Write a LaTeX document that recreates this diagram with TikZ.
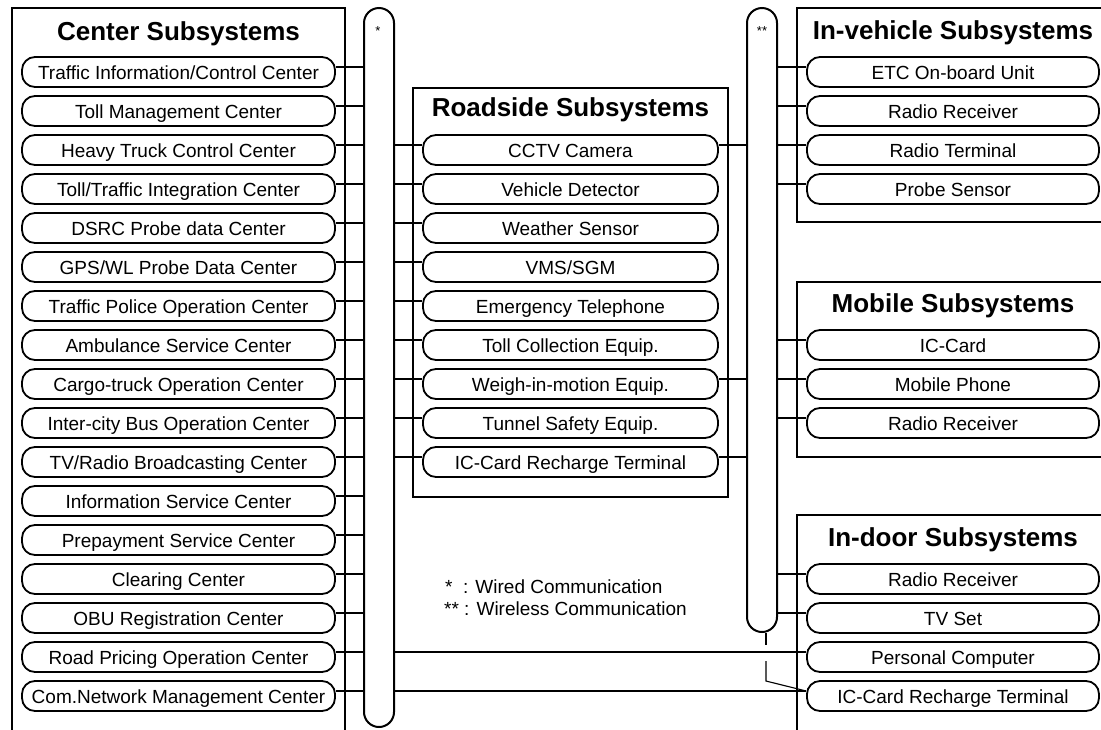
\documentclass[tikz,border=0pt]{standalone}
\usepackage{fontspec}
\setmainfont{Liberation Sans}
\tikzset{
  frame/.style={draw, line width=2pt},
  pill/.style={draw, line width=1.8pt, rounded corners=13pt, minimum height=30pt,
    inner sep=0pt, text height=16pt, text depth=2pt, fill=white,
    font=\fontsize{19}{22}\selectfont},
  cpill/.style={pill, minimum width=313pt},
  rpill/.style={pill, minimum width=295pt},
  spill/.style={pill, minimum width=292pt},
  tube/.style={draw, line width=2pt, rounded corners=15pt, minimum width=30pt, inner sep=0pt},
  title/.style={anchor=base, font=\bfseries\fontsize{26}{29}\selectfont},
  busmark/.style={font=\fontsize{13}{15}\selectfont},
  link/.style={line width=1.8pt},
  hopline/.style={line width=1.1pt},
  legend/.style={anchor=base west, inner sep=0pt, font=\fontsize{19}{22}\selectfont},
}
\begin{document}
\begin{tikzpicture}[x=1pt, y=-1pt]
\useasboundingbox (0,0) rectangle (1101,729);
\clip (0,0) rectangle (1101,729);
\fill[white] (0,0) rectangle (1101,729);

% subsystem frames
\draw[frame] (12,745) -- (12,8) -- (345,8) -- (345,745);
\draw[frame] (413,88) rectangle (728,497);
\draw[frame] (1110,8) -- (797,8) -- (797,222) -- (1110,222);
\draw[frame] (1110,282) -- (797,282) -- (797,457) -- (1110,457);
\draw[frame] (1110,515) -- (797,515) -- (797,745);

% titles
\node[title] (tc) at (178.5,40) {Center Subsystems};
\node[title] (tr) at (570.5,116) {Roadside Subsystems};
\node[title] (tv) at (953,39) {In-vehicle Subsystems};
\node[title] (tm) at (953,312) {Mobile Subsystems};
\node[title] (td) at (953,546) {In-door Subsystems};

% communication buses
\node[tube, minimum height=719pt] (wired) at (379,367.5) {};
\node[tube, minimum height=624pt] (wls) at (762,320) {};
\node[busmark] (wmark) at (378,31) {*};
\node[busmark] (smark) at (762,31) {**};

% center subsystems
\node[cpill] (c1)  at (178.5,72)  {Traffic Information/Control Center};
\node[cpill] (c2)  at (178.5,111) {Toll Management Center};
\node[cpill] (c3)  at (178.5,150) {Heavy Truck Control Center};
\node[cpill] (c4)  at (178.5,189) {Toll/Traffic Integration Center};
\node[cpill] (c5)  at (178.5,228) {DSRC Probe data Center};
\node[cpill] (c6)  at (178.5,267) {GPS/WL Probe Data Center};
\node[cpill] (c7)  at (178.5,306) {Traffic Police Operation Center};
\node[cpill] (c8)  at (178.5,345) {Ambulance Service Center};
\node[cpill] (c9)  at (178.5,384) {Cargo-truck Operation Center};
\node[cpill] (c10) at (178.5,423) {Inter-city Bus Operation Center};
\node[cpill] (c11) at (178.5,462) {TV/Radio Broadcasting Center};
\node[cpill] (c12) at (178.5,501) {Information Service Center};
\node[cpill] (c13) at (178.5,540) {Prepayment Service Center};
\node[cpill] (c14) at (178.5,579) {Clearing Center};
\node[cpill] (c15) at (178.5,618) {OBU Registration Center};
\node[cpill] (c16) at (178.5,657) {Road Pricing Operation Center};
\node[cpill] (c17) at (178.5,696) {Com.Network Management Center};

% roadside subsystems
\node[rpill] (r3)  at (570.5,150) {CCTV Camera};
\node[rpill] (r4)  at (570.5,189) {Vehicle Detector};
\node[rpill] (r5)  at (570.5,228) {Weather Sensor};
\node[rpill] (r6)  at (570.5,267) {VMS/SGM};
\node[rpill] (r7)  at (570.5,306) {Emergency Telephone};
\node[rpill] (r8)  at (570.5,345) {Toll Collection Equip.};
\node[rpill] (r9)  at (570.5,384) {Weigh-in-motion Equip.};
\node[rpill] (r10) at (570.5,423) {Tunnel Safety Equip.};
\node[rpill] (r11) at (570.5,462) {IC-Card Recharge Terminal};

% in-vehicle subsystems
\node[spill] (v1) at (953,72)  {ETC On-board Unit};
\node[spill] (v2) at (953,111) {Radio Receiver};
\node[spill] (v3) at (953,150) {Radio Terminal};
\node[spill] (v4) at (953,189) {Probe Sensor};

% mobile subsystems
\node[spill] (m1) at (953,345) {IC-Card};
\node[spill] (m2) at (953,384) {Mobile Phone};
\node[spill] (m3) at (953,423) {Radio Receiver};

% in-door subsystems
\node[spill] (d1) at (953,579) {Radio Receiver};
\node[spill] (d2) at (953,618) {TV Set};
\node[spill] (d3) at (953,657) {Personal Computer};
\node[spill] (d4) at (953,696) {IC-Card Recharge Terminal};

% wired links
\foreach \i in {1,...,17}
  \draw[link] ([yshift=5pt]c\i.east) -- ([yshift=5pt]c\i.east -| wired.west);
\foreach \i in {3,...,11}
  \draw[link] ([yshift=5pt]r\i.west -| wired.east) -- ([yshift=5pt]r\i.west);
\draw[hopline] ([yshift=5pt]d3.west -| wired.east) -- ([yshift=5pt]d3.west);
\draw[link] ([yshift=5pt]d4.west -| wired.east) -- ([yshift=5pt]d4.west);

% wireless links
\foreach \n in {r3,r9,r11}
  \draw[link] ([yshift=5pt]\n.east) -- ([yshift=5pt]\n.east -| wls.west);
\foreach \n in {v1,v2,v3,v4,m1,m2,m3,d1,d2}
  \draw[link] ([yshift=5pt]\n.west -| wls.east) -- ([yshift=5pt]\n.west);

% wireless branch hopping over the computer link
\coordinate (hopA) at (766,645);
\coordinate (hopB) at (766,661);
\coordinate (hopC) at (766,681);
\draw[hopline] ([xshift=4pt]wls.south) -- (hopA);
\draw[hopline] (hopB) -- (hopC) -- ([yshift=5pt]d4.west);

% legend
\node[legend] (l1) at (445,593) {*\ \ : Wired Communication};
\node[legend] (l2) at (444,615) {**\ : Wireless Communication};
\end{tikzpicture}
\end{document}
